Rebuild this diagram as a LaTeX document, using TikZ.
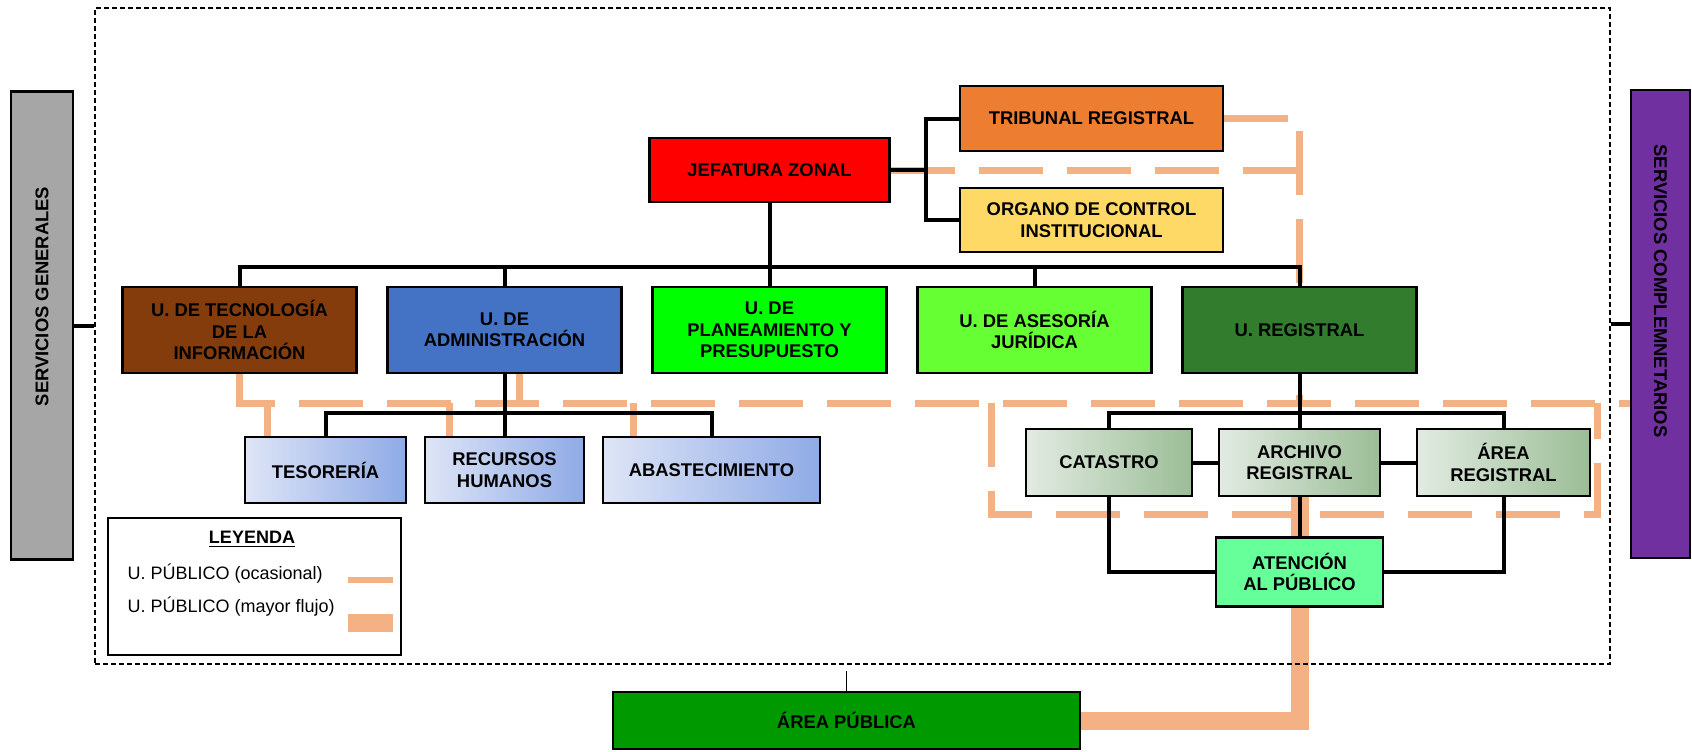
\documentclass[tikz,border=0pt]{standalone}
\usepackage{fontspec}
\setmainfont{Liberation Sans}
\usepackage{tikz}
\usetikzlibrary{positioning,backgrounds}

\definecolor{jefred}{RGB}{255,0,0}
\definecolor{tribunal}{RGB}{237,125,49}
\definecolor{control}{RGB}{255,217,102}
\definecolor{tecno}{RGB}{132,60,12}
\definecolor{admin}{RGB}{68,114,196}
\definecolor{plan}{RGB}{0,255,0}
\definecolor{asesor}{RGB}{102,255,51}
\definecolor{regis}{RGB}{49,125,45}
\definecolor{subadmA}{RGB}{222,229,246}
\definecolor{subadmB}{RGB}{143,170,230}
\definecolor{subregA}{RGB}{226,235,226}
\definecolor{subregB}{RGB}{155,189,150}
\definecolor{atencion}{RGB}{102,255,153}
\definecolor{publica}{RGB}{0,153,0}
\definecolor{sgris}{RGB}{166,166,166}
\definecolor{scmorado}{RGB}{112,48,160}
\definecolor{flujo}{RGB}{244,177,131}

\begin{document}
\begin{tikzpicture}[x=0.5pt,y=-0.5pt,line width=2pt]
\tikzstyle{unit} = [draw, line width=1.3pt, align=center, inner sep=2pt, font=\bfseries\fontsize{9.2}{10.7}\selectfont]
\tikzstyle{mainunit} = [unit, minimum width=117pt, minimum height=43pt]
\tikzstyle{admsub} = [unit, minimum height=33pt, left color=subadmA, right color=subadmB]
\tikzstyle{regsub} = [unit, minimum height=33.5pt, left color=subregA, right color=subregB]
\tikzstyle{side} = [unit, minimum width=234pt]
\tikzstyle{link} = [line width=2pt]
\tikzstyle{ocasional} = [draw=flujo, line width=3.5pt, dash pattern=on 32pt off 12pt]
\tikzstyle{mayor} = [draw=flujo, line width=9pt]

\useasboundingbox (0,0) rectangle (1692,751);

% Marco
\node[draw, line width=0.75pt, dash pattern=on 2.5pt off 1.5pt, minimum width=757.5pt, minimum height=328pt, inner sep=0pt] (frame) at (852.5,336) {};

% Servicios
\node[side, fill=sgris, minimum height=31pt, rotate=90] (sg) at (42,325.5) {\hspace*{29pt}SERVICIOS GENERALES};
\node[side, fill=scmorado, minimum height=29.5pt, rotate=-90] (sc) at (1660.5,324) {SERVICIOS COMPLEMNETARIOS\hspace*{33pt}};
\draw[link] (sg.south) -- (sg.south -| frame.west);
\draw[link] (sc.south) -- (sc.south -| frame.east);

% Jefatura
\node[unit, fill=jefred, minimum width=120pt, minimum height=32pt] (jz) at (769.5,170) {JEFATURA ZONAL};
\node[unit, fill=tribunal, minimum width=131.5pt, minimum height=32.5pt] (tr) at (1091.5,118.5) {TRIBUNAL REGISTRAL};
\node[unit, fill=control, minimum width=131.5pt, minimum height=32pt] (oci) at (1091.5,220) {ORGANO DE CONTROL\\INSTITUCIONAL};
\coordinate (brk) at (926,170);
\draw[link] (jz.east) -- (brk);
\draw[link] (tr.west) -| (brk);
\draw[link] (oci.west) -| (brk);

% Unidades
\node[mainunit, fill=tecno] (tec) at (239.5,330) {U. DE TECNOLOGÍA\\DE LA\\INFORMACIÓN};
\node[mainunit, fill=admin, right of=tec, node distance=132.5pt] (adm) {U. DE\\ADMINISTRACIÓN};
\node[mainunit, fill=plan, right of=adm, node distance=132.5pt] (pla) {U. DE\\PLANEAMIENTO Y\\PRESUPUESTO};
\node[mainunit, fill=asesor, right of=pla, node distance=132.5pt] (ase) {U. DE ASESORÍA\\JURÍDICA};
\node[mainunit, fill=regis, right of=ase, node distance=132.5pt] (reg) {U. REGISTRAL};
\coordinate (bus) at (769.5,267);
\draw[link] (jz.south) -- (bus);
\draw[link] (tec.north) |- (bus) -| (reg.north);
\foreach \u in {adm,pla,ase}
  \draw[link] (\u.north) -- (\u.north |- bus);

% Administracion
\node[admsub, minimum width=80.5pt] (tes) at (325.5,470) {TESORERÍA};
\node[admsub, minimum width=79.5pt] (rh) at (504.5,470) {RECURSOS\\HUMANOS};
\node[admsub, minimum width=108.5pt] (ab) at (711.5,470) {ABASTECIMIENTO};
\coordinate (abus) at (504.5,413);
\draw[link] (adm.south) -- (rh.north);
\draw[link] (tes.north) |- (abus) -| (ab.north);

% Registral
\node[regsub, minimum width=83pt] (cat) at (1109,462.5) {CATASTRO};
\node[regsub, minimum width=80.5pt] (arc) at (1299.5,462.5) {ARCHIVO\\REGISTRAL};
\node[regsub, minimum width=86.5pt] (are) at (1503.5,462.5) {ÁREA\\REGISTRAL};
\node[unit, fill=atencion, minimum width=83.5pt, minimum height=34.5pt] (ate) at (1299.5,572) {ATENCIÓN\\AL PÚBLICO};
\coordinate (rbus) at (1299.5,413);
\draw[link] (reg.south) -- (arc.north);
\draw[link] (cat.north) |- (rbus) -| (are.north);
\draw[link] (cat) -- (arc);
\draw[link] (arc) -- (are);
\draw[link] (arc) -- (ate);
\draw[link] (cat.south) |- (ate.west);
\draw[link] (are.south) |- (ate.east);

% Area publica
\node[unit, fill=publica, minimum width=233.5pt, minimum height=28.5pt] (ap) at (846.5,720.5) {ÁREA PÚBLICA};
\draw[line width=0.75pt] (ap.north) -- ([yshift=-3pt]ap.north |- frame.south);

% Leyenda
\node[draw, line width=1pt, minimum width=146.5pt, minimum height=68.5pt] (leyenda) at (254.5,586.5) {};
\node[font=\bfseries\fontsize{9}{10}\selectfont] (leytit) at (252,539) {\underline{LEYENDA}};
\node[anchor=west, font=\fontsize{9}{10}\selectfont] (ley1) at (119,574) {U. PÚBLICO (ocasional)};
\node[anchor=west, font=\fontsize{9}{10}\selectfont] (ley2) at (119,607) {U. PÚBLICO (mayor flujo)};
\draw[draw=flujo, line width=3pt] (348,580) -- (393,580);
\draw[mayor] (348,623) -- (393,623);

% Flujo de usuarios
\begin{scope}[on background layer]
\coordinate (via) at (239.5,403);
\coordinate (rsw) at (991,514);
\coordinate (rne) at (1597,403);
\draw[ocasional] (jz.east) -- (jz.east -| reg.north);
\draw[ocasional] (tr.east) -| (reg.south |- via);
\draw[ocasional] (tec.south) -- (via) -- (via -| sc.south);
\draw[ocasional] ([xshift=7.25pt]adm.south) -- ([xshift=7.25pt]adm.south |- via);
\draw[ocasional] ([xshift=12pt]tes.north west |- via) -- ([xshift=12pt]tes.north west);
\draw[ocasional] ([xshift=13pt]rh.north west |- via) -- ([xshift=13pt]rh.north west);
\draw[ocasional] ([xshift=16pt]ab.north west |- via) -- ([xshift=16pt]ab.north west);
\draw[ocasional] (rsw |- rne) -- (rsw) -| (rne);
\draw[mayor] (arc.south) |- (ap.east);
\end{scope}
\end{tikzpicture}
\end{document}
